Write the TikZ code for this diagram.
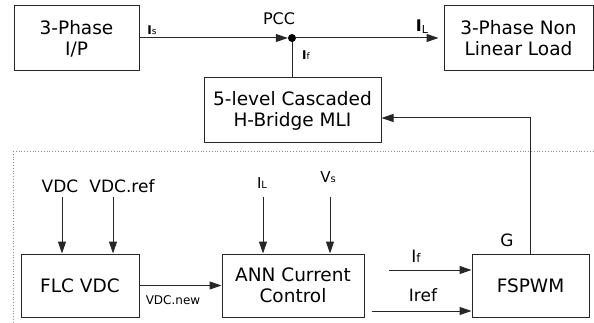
\documentclass[tikz,border=0pt]{standalone}
\usepackage{fontspec}
\setmainfont{DejaVu Sans}
\usetikzlibrary{arrows.meta}
\newcommand{\fsz}[1]{\fontsize{#1}{#1}\selectfont}
\begin{document}
\begin{tikzpicture}[x=1pt,y=-1pt,
  box/.style={draw=black!85,line width=1pt,inner sep=0pt,align=center,
    font=\fontsize{18.5}{21}\selectfont},
  arr/.style={draw=black!85,line width=1pt,-{Triangle[length=12pt,width=8pt]}},
  ln/.style={draw=black!85,line width=1pt},
  lbl/.style={inner sep=0pt,text=black}]
\useasboundingbox (0,0) rectangle (594,323);
% top section
\node[box,minimum width=125pt,minimum height=65pt] (ip) at (76.5,38.5) {3-Phase\\I/P};
\node[box,minimum width=149pt,minimum height=65pt] (load) at (518.5,38.5) {3-Phase Non\\Linear Load};
\node[box,minimum width=177pt,minimum height=65pt] (mli) at (292.5,110.5) {5-level Cascaded\\H-Bridge MLI};
\node[circle,fill=black,inner sep=0pt,minimum size=8pt] (pcc) at (292,38) {};
\draw[arr] (ip.east |- pcc) -- (pcc.west);
\draw[arr] (pcc.east) -- ([xshift=-5pt]load.west |- pcc);
\draw[ln] (pcc.south) -- (pcc |- mli.north);
\node[lbl,font=\fsz{16}] (pcclbl) at (279,19) {PCC};
\node[lbl] (islbl) at (152,30) {\fsz{12}\textbf{I}\fsz{9}s};
\node[lbl] (illbl) at (422,27) {\fsz{16}\textbf{I}\raisebox{-2pt}{\fsz{11}L}};
\node[lbl] (iflbl) at (306,55) {\fsz{12}\textbf{I}\fsz{9}f};
% separator
\draw[black!45,dotted,line width=0.8pt] (13,151) -- (594,151);
\draw[black!45,dotted,line width=0.8pt] (13,151) -- (13,323);
% bottom section
\node[box,minimum width=118pt,minimum height=63pt] (flc) at (80,285.5) {FLC VDC};
\node[box,minimum width=142pt,minimum height=63pt] (ann) at (293,285.5) {ANN Current\\Control};
\node[box,minimum width=117pt,minimum height=63pt] (fsp) at (530.5,285.5) {FSPWM};
\node[lbl,font=\fsz{17}] (vdc) at (60,186) {VDC};
\node[lbl,font=\fsz{17}] (vdcref) at (122,186) {VDC.ref};
\node[lbl] (ilb) at (262,183) {\fsz{15}I\fsz{10}L};
\node[lbl] (vs) at (328,177) {\fsz{15}V\fsz{10}s};
\coordinate (a1) at (62,197);
\coordinate (a2) at (113,197);
\coordinate (a3) at (263,197);
\coordinate (a4) at (330,197);
\draw[arr] (a1) -- (a1 |- flc.north);
\draw[arr] (a2) -- (a2 |- flc.north);
\draw[arr] (a3) -- (a3 |- ann.north);
\draw[arr] (a4) -- (a4 |- ann.north);
\draw[arr] (flc.east) -- (ann.west);
\node[lbl,font=\fsz{12}] (vdcnew) at (173,300) {VDC.new};
\coordinate (ifs) at (389,270);
\coordinate (irs) at (372,311);
\draw[arr] (ifs) -- (ifs -| fsp.west);
\draw[arr] (irs) -- (irs -| fsp.west);
\node[lbl] (ifb) at (416,256) {\fsz{17}I\fsz{12}f};
\node[lbl,font=\fsz{17}] (iref) at (423,295) {Iref};
\node[lbl,font=\fsz{17}] (g) at (507,240) {G};
\draw[arr] (fsp.north) |- ([yshift=-7.5pt]mli.east);
\end{tikzpicture}
\end{document}
